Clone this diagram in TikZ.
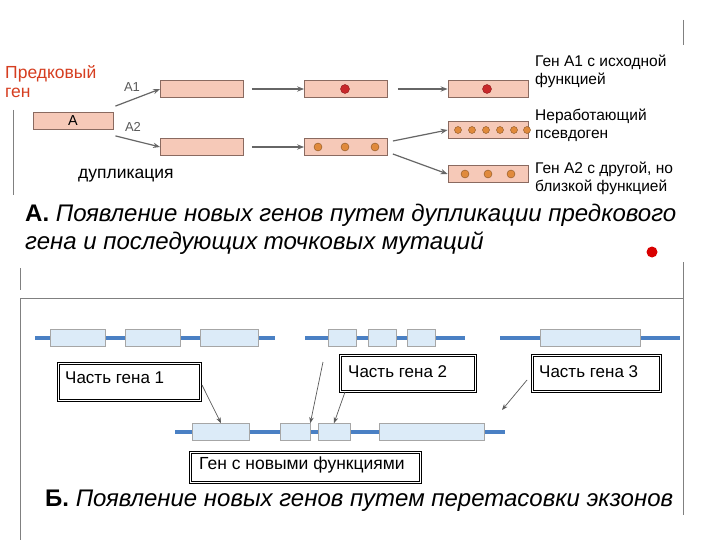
\documentclass[tikz,border=0pt]{standalone}
\usepackage{fontspec}
\setmainfont{Liberation Sans}
\usetikzlibrary{arrows.meta}
\definecolor{pk}{HTML}{F6C9B8}
\definecolor{pkd}{HTML}{8A6A60}
\definecolor{dred}{HTML}{C8282A}
\definecolor{orn}{HTML}{E08A3C}
\definecolor{gb}{HTML}{4A80C4}
\definecolor{lb}{HTML}{DCEBF8}
\begin{document}
\begin{tikzpicture}[x=1pt,y=-1pt,
  pbox/.style={draw=pkd,fill=pk,line width=0.8pt,minimum height=17pt,inner sep=0pt},
  bbox/.style={draw=gray!70,fill=lb,line width=0.6pt,minimum height=17pt,inner sep=0pt},
  gl/.style={gb,line width=4pt},
  parr/.style={draw=gray!80!black,line width=1.2pt,-{Stealth[length=7pt]}},
  barr/.style={draw=gray!70!black,line width=0.7pt,-{Stealth[length=6pt]}},
  txt/.style={font=\fontsize{15.5}{18}\selectfont,align=left,anchor=north west,inner sep=0pt},
  lab/.style={anchor=north west,font=\fontsize{17}{19}\selectfont,inner sep=0pt},
  dframe/.style={draw,double,double distance=1.6pt,line width=0.8pt,anchor=north west,inner sep=0pt},
  rdot/.style={circle,fill=dred,draw=dred!70!black,minimum size=9pt,inner sep=0pt},
  odot/.style={circle,fill=orn,draw=orn!60!black,minimum size=8pt,inner sep=0pt}]
\useasboundingbox (0,0) rectangle (720,540);
\fill[white] (0,0) rectangle (720,540);
% lines
\draw[gray,line width=0.6pt] (683,20) -- (683,45);
\draw[gray,line width=0.6pt] (13,110) -- (13,195);
% top text
\node[txt,font=\fontsize{17.5}{19}\selectfont,text=dred!75!orange] (pg) at (5,65) {Предковый\\ген};
\node[txt] (t1) at (535,55) {Ген А1 с исходной\\функцией};
\node[txt] (t2) at (535,109) {Неработающий\\псевдоген};
\node[txt] (t3) at (535,162) {Ген А2 с другой, но\\близкой функцией};
\node[txt,font=\fontsize{17.5}{19}\selectfont] (dup) at (78,169) {дупликация};
% genes
\node[pbox,minimum width=80pt] (a) at (73,121) {\Large A};
\node[font=\fontsize{13}{14}\selectfont,text=gray!70!black] (la1) at (132,87) {A1};
\node[font=\fontsize{13}{14}\selectfont,text=gray!70!black] (la2) at (133,127) {A2};
\node[pbox,minimum width=83pt] (r1a) at (202,89) {};
\node[pbox,minimum width=83pt] (r1b) at (346,89) {};
\node[pbox,minimum width=80pt] (r1c) at (488,89) {};
\node[pbox,minimum width=83pt] (r2a) at (202,147) {};
\node[pbox,minimum width=83pt] (r2b) at (346,147) {};
\node[pbox,minimum width=80pt] (r3a) at (488,130) {};
\node[pbox,minimum width=80pt] (r3b) at (488,174) {};
\node[rdot] (d1) at (345,89) {};
\node[rdot] (d2) at (487,89) {};
\foreach \x/\n in {318/a,345/b,375/c} \node[odot] (e\n) at (\x,147) {};
\foreach \x/\n in {458/a,472/b,486/c,500/d,514/e,527/f} \node[odot,minimum size=7pt] (f\n) at (\x,130) {};
\foreach \x/\n in {465/a,488/b,511/c} \node[odot] (g\n) at (\x,174) {};
\draw[parr] (a.north east) ++(2,-6) coordinate (s1) -- (r1a.west);
\draw[parr] (a.south east) ++(2,6) coordinate (s2) -- (r2a.west);
\draw[parr] (r1a.east) ++(8,0) coordinate (s3) -- (r1b.west);
\draw[parr] (r1b.east) ++(10,0) coordinate (s4) -- (r1c.west);
\draw[parr] (r2a.east) ++(8,0) coordinate (s5) -- (r2b.west);
\draw[parr] (r2b.east) ++(5,-6) coordinate (s6) -- (r3a.west);
\draw[parr] (r2b.east) ++(5,7) coordinate (s7) -- (r3b.west);
% title A
\node[txt,font=\fontsize{24}{28}\selectfont] (ta) at (25,204) {\textbf{А.} \textit{Появление новых генов путем дупликации предкового}\\\textit{гена и последующих точковых мутаций}};
\node[circle,fill=red!85!black,minimum size=11pt,inner sep=0pt] (rd) at (652,252) {};
% frame B
\draw[gray,line width=0.8pt] (20,540) -- (20,298) -- (683,298);
\draw[gray,line width=0.8pt] (683,262) -- (683,515);
\draw[gray,line width=0.6pt] (20,268) -- (20,290);
% exon rows
\draw[gl] (35,338) -- (275,338);
\draw[gl] (305,338) -- (465,338);
\draw[gl] (500,338) -- (680,338);
\node[bbox,minimum width=55pt] (x1) at (78,338) {};
\node[bbox,minimum width=55pt] (x2) at (153,338) {};
\node[bbox,minimum width=58pt] (x3) at (229,338) {};
\node[bbox,minimum width=28pt] (y1) at (342,338) {};
\node[bbox,minimum width=28pt] (y2) at (382,338) {};
\node[bbox,minimum width=28pt] (y3) at (421,338) {};
\node[bbox,minimum width=100pt] (z1) at (590,338) {};
\draw[gl] (175,432) -- (505,432);
\node[bbox,minimum width=57pt] (n1) at (221,432) {};
\node[bbox,minimum width=30pt] (n2) at (295,432) {};
\node[bbox,minimum width=32pt] (n3) at (334,432) {};
\node[bbox,minimum width=105pt] (n4) at (432,432) {};
% labels
\node[dframe,minimum width=142pt,minimum height=37pt] (p1) at (58,363) {};
\node[lab] (p1t) at (65,372) {Часть гена 1};
\node[dframe,minimum width=135pt,minimum height=36pt] (p2) at (340,355) {};
\node[lab] (p2t) at (348,365) {Часть гена 2};
\node[dframe,minimum width=128pt,minimum height=36pt] (p3) at (532,355) {};
\node[lab] (p3t) at (539,365) {Часть гена 3};
\node[dframe,minimum width=230pt,minimum height=30pt] (pn) at (190,452) {};
\node[lab,font=\fontsize{17.5}{19}\selectfont] (pnt) at (199,457) {Ген с новыми функциями};
\coordinate (b1) at (202,385); \draw[barr] (b1) -- (n1.north);
\coordinate (b2) at (323,362); \draw[barr] (b2) -- (n2.north east);
\coordinate (b3) at (345,392); \draw[barr] (b3) -- (n3.north);
\coordinate (b4) at (527,380); \draw[barr] (b4) -- (502,410);
% title B
\node[txt,font=\fontsize{24}{26}\selectfont] (tb) at (45,490) {\textbf{Б.} \textit{Появление новых генов путем перетасовки экзонов}};
\end{tikzpicture}
\end{document}
